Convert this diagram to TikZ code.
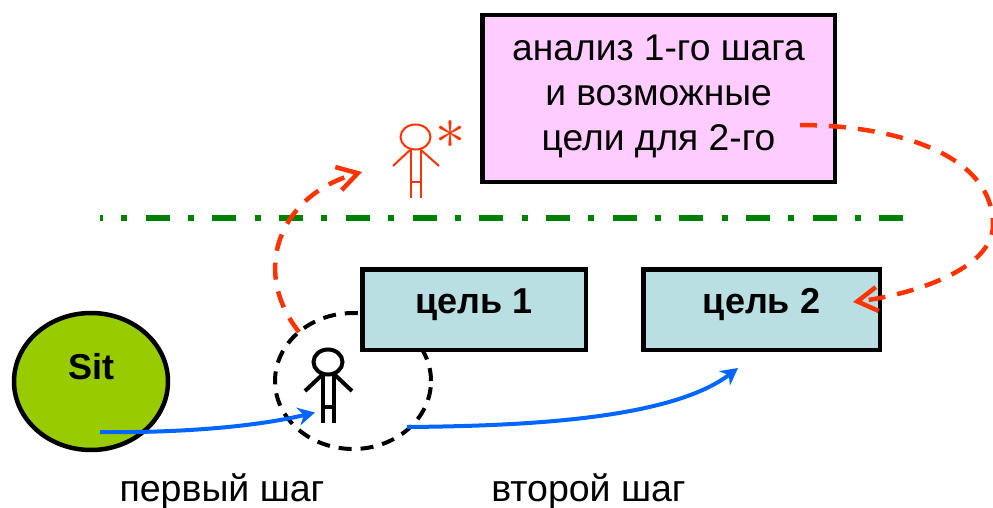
\documentclass[tikz,border=0pt]{standalone}
\usepackage{fontspec}
\setmainfont{Liberation Sans}
\usetikzlibrary{arrows.meta, positioning}
\usetikzlibrary{shapes.geometric}
\definecolor{pinkbox}{HTML}{FFCCFF}
\definecolor{goalbox}{HTML}{B9DFE3}
\definecolor{sitgreen}{HTML}{99CC00}
\definecolor{linegreen}{HTML}{008000}
\definecolor{redline}{HTML}{FF3300}
\definecolor{blueline}{HTML}{0066FF}
\newcommand\bigtext{\fontsize{37.2}{45}\selectfont}
\newcommand\labeltext{\fontsize{37.5}{40}\selectfont}
\newcommand\boldtext{\fontsize{36}{40}\selectfont\bfseries}

\begin{document}
\begin{tikzpicture}[x=1pt, y=-1pt,
    goal/.style={rectangle, draw, line width=4.5pt, fill=goalbox, minimum width=223.5pt, minimum height=80.5pt, text depth=17pt, font=\boldtext},
    redarrow/.style={draw=redline, line width=4.5pt, dash pattern=on 17pt off 12pt, -{Straight Barb[length=20pt, width=24pt, line width=4.5pt]}},
    bluearrow/.style={draw=blueline, line width=4pt, -{Stealth[length=17pt, width=18pt]}},
    man/.style={line width=4pt},
    redman/.style={draw=redline, line width=2pt}]

    \useasboundingbox (0,0) rectangle (993,508);

    % Top box
    \node at (658.5, 98.5) [rectangle, draw, line width=4.5pt, fill=pinkbox, minimum width=352.5pt, minimum height=166.5pt, align=center, font=\bigtext, text depth=12pt] (analysis) {анализ 1-го шага\\и возможные\\цели для 2-го};

    % Red figure
    \node at (415.5, 137) [ellipse, draw=redline, line width=2pt, minimum width=30pt, minimum height=25pt, inner sep=0pt] (redhead) {};
    \draw[redman] (411, 149) -- (411, 198);
    \draw[redman] (420.5, 149) -- (420.5, 198);
    \draw[redman] (411, 182) -- (420.5, 182);
    \draw[redman] (410, 150) -- (393, 166);
    \draw[redman] (421, 150) -- (439, 166);
    \node at (450, 135) [text=redline, scale=6, inner sep=0pt] (star) {$\ast$};

    % Separator
    \coordinate (sepl) at (100, 218);
    \coordinate (sepr) at (903, 218);
    \draw[linegreen, line width=6pt, dash pattern=on 24pt off 18.3pt on 6pt off 18.4pt, dash phase=21pt] (sepl) -- (sepr);

    % Lower part
    \node at (353, 381) [ellipse, draw, line width=4pt, dash pattern=on 13pt off 9pt, minimum width=156pt, minimum height=136pt] (view) {};
    \node at (474, 309.5) [goal] (goal1) {цель 1};
    \node at (761.5, 309.5) [goal, minimum width=236.5pt] (goal2) {цель 2};
    \node at (91, 381.5) [ellipse, draw, line width=4.5pt, fill=sitgreen, minimum width=154pt, minimum height=137pt, text depth=31pt, font=\fontsize{36}{40}\selectfont\bfseries] (sit) {Sit};

    % Black figure
    \node at (328, 362) [ellipse, draw, line width=4pt, minimum width=29pt, minimum height=25pt, inner sep=0pt] (head) {};
    \draw[man] (322.5, 375) -- (322.5, 423);
    \draw[man] (333.5, 375) -- (333.5, 423);
    \draw[man] (322.5, 407) -- (333.5, 407);
    \draw[man] (322, 375) -- (305, 391);
    \draw[man] (335, 375) -- (352, 391);

    % Arrows
    \coordinate (b1) at (100, 432);
    \coordinate (b2) at (315, 412.5);
    \coordinate (b3) at (407, 427);
    \coordinate (b4) at (738, 368);
    \draw[bluearrow] (b1) .. controls (170, 433) and (250, 428) .. (b2);
    \draw[bluearrow] (b3) .. controls (520, 426) and (670, 420) .. (b4);

    \coordinate (r1) at (299, 332);
    \coordinate (r2) at (362, 172);
    \coordinate (r3) at (800, 125);
    \coordinate (r4) at (993, 225);
    \coordinate (r5) at (853, 302);
    \draw[redarrow] (r1) .. controls (250, 270) and (280, 195) .. (r2);
    \draw[redarrow] (r3) .. controls (885, 125) and (993, 150) .. (r4) .. controls (993, 270) and (910, 295) .. (r5);

    % Captions
    \node at (222, 491) [font=\labeltext] (step1) {первый шаг};
    \node at (588.5, 491) [font=\labeltext] (step2) {второй шаг};

\end{tikzpicture}
\end{document}
